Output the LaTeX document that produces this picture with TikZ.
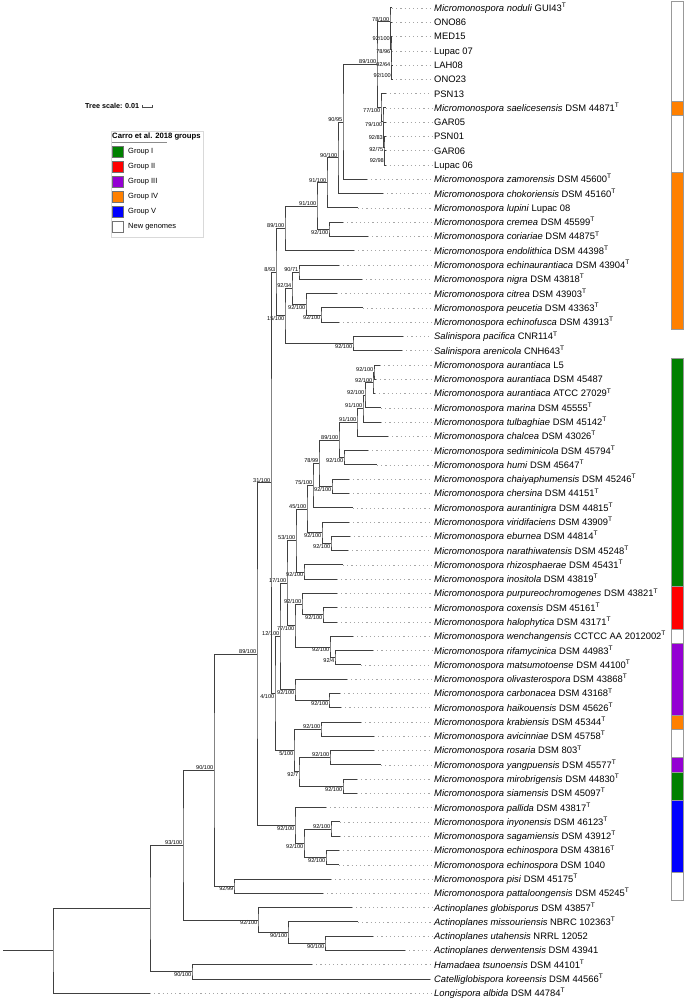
\documentclass[tikz,border=0pt]{standalone}
\usepackage{fontspec}
\setmainfont{Liberation Sans}
\usetikzlibrary{calc,arrows.meta}
\definecolor{grpI}{RGB}{0,128,0}
\definecolor{grpII}{RGB}{255,0,0}
\definecolor{grpIII}{RGB}{148,0,211}
\definecolor{grpIV}{RGB}{255,128,0}
\definecolor{grpV}{RGB}{0,0,255}
\newcommand\tT{\textsuperscript{T}}
\newcommand\Mic[1]{\textit{Micromonospora #1}}
% clade: name, x, upper child, lower child, support, label side
\newcommand\clade[6]{%
  \path let \p1=(#3), \p2=(#4) in coordinate (#1) at (#2pt,{(\y1+\y2)/2});
  \draw[branch] (#3) -| (#1) |- (#4);
  \node[#6] (#1s) at (#1) {#5};}
\begin{document}
\begin{tikzpicture}[
    x=1pt, y=-1pt,
    branch/.style={draw=black!75, line width=1pt},
    leader/.style={draw=black!35, line width=0.6pt, dash pattern=on 1.2pt off 3pt},
    leaf/.style={anchor=base west, inner sep=0pt, font=\fontsize{9.4}{11}\selectfont},
    bsu/.style={anchor=south east, inner sep=0.5pt, font=\fontsize{5.6}{6}\selectfont},
    bsd/.style={anchor=north east, inner sep=0.5pt, font=\fontsize{5.6}{6}\selectfont},
    barseg/.style={draw=black!40, line width=0.6pt},
    swatch/.style={draw=black!55, line width=0.5pt, minimum size=10.5pt, inner sep=0pt},
    keytext/.style={anchor=west, inner sep=0pt, font=\fontsize{7.5}{9}\selectfont}
]
\useasboundingbox (0,0) rectangle (686,1000);

% leaves
\foreach \i/\xe/\lbl in {
  1/392/{\Mic{noduli} GUI43\tT},
  2/392/{ONO86},
  3/392/{MED15},
  4/392/{Lupac 07},
  5/392/{LAH08},
  6/392/{ONO23},
  7/386/{PSN13},
  8/385.5/{\Mic{saelicesensis} DSM 44871\tT},
  9/385.5/{GAR05},
  10/385.5/{PSN01},
  11/385.5/{GAR06},
  12/385.5/{Lupac 06},
  13/367/{\Mic{zamorensis} DSM 45600\tT},
  14/383/{\Mic{chokoriensis} DSM 45160\tT},
  15/358/{\Mic{lupini} Lupac 08},
  16/343/{\Mic{cremea} DSM 45599\tT},
  17/368/{\Mic{coriariae} DSM 44875\tT},
  18/354/{\Mic{endolithica} DSM 44398\tT},
  19/339/{\Mic{echinaurantiaca} DSM 43904\tT},
  20/362/{\Mic{nigra} DSM 43818\tT},
  21/337/{\Mic{citrea} DSM 43903\tT},
  22/363/{\Mic{peucetia} DSM 43363\tT},
  23/339/{\Mic{echinofusca} DSM 43913\tT},
  24/403/{\textit{Salinispora pacifica} CNR114\tT},
  25/402/{\textit{Salinispora arenicola} CNH643\tT},
  26/380/{\Mic{aurantiaca} L5},
  27/376/{\Mic{aurantiaca} DSM 45487},
  28/375/{\Mic{aurantiaca} ATCC 27029\tT},
  29/381/{\Mic{marina} DSM 45555\tT},
  30/381/{\Mic{tulbaghiae} DSM 45142\tT},
  31/388/{\Mic{chalcea} DSM 43026\tT},
  32/368/{\Mic{sediminicola} DSM 45794\tT},
  33/377/{\Mic{humi} DSM 45647\tT},
  34/349/{\Mic{chaiyaphumensis} DSM 45246\tT},
  35/349/{\Mic{chersina} DSM 44151\tT},
  36/353/{\Mic{aurantinigra} DSM 44815\tT},
  37/349/{\Mic{viridifaciens} DSM 43909\tT},
  38/350/{\Mic{eburnea} DSM 44814\tT},
  39/348/{\Mic{narathiwatensis} DSM 45248\tT},
  40/343/{\Mic{rhizosphaerae} DSM 45431\tT},
  41/337/{\Mic{inositola} DSM 43819\tT},
  42/337/{\Mic{purpureochromogenes} DSM 43821\tT},
  43/337/{\Mic{coxensis} DSM 45161\tT},
  44/337/{\Mic{halophytica} DSM 43171\tT},
  45/353/{\Mic{wenchangensis} CCTCC AA 2012002\tT},
  46/373/{\Mic{rifamycinica} DSM 44983\tT},
  47/361/{\Mic{matsumotoense} DSM 44100\tT},
  48/347/{\Mic{olivasterospora} DSM 43868\tT},
  49/340/{\Mic{carbonacea} DSM 43168\tT},
  50/341/{\Mic{haikouensis} DSM 45626\tT},
  51/361/{\Mic{krabiensis} DSM 45344\tT},
  52/374/{\Mic{avicinniae} DSM 45758\tT},
  53/374/{\Mic{rosaria} DSM 803\tT},
  54/381/{\Mic{yangpuensis} DSM 45577\tT},
  55/357/{\Mic{mirobrigensis} DSM 44830\tT},
  56/357/{\Mic{siamensis} DSM 45097\tT},
  57/326/{\Mic{pallida} DSM 43817\tT},
  58/340/{\Mic{inyonensis} DSM 46123\tT},
  59/340/{\Mic{sagamiensis} DSM 43912\tT},
  60/339/{\Mic{echinospora} DSM 43816\tT},
  61/339/{\Mic{echinospora} DSM 1040},
  62/331/{\Mic{pisi} DSM 45175\tT},
  63/323/{\Mic{pattaloongensis} DSM 45245\tT},
  64/352/{\textit{Actinoplanes globisporus} DSM 43857\tT},
  65/358/{\textit{Actinoplanes missouriensis} NBRC 102363\tT},
  66/373/{\textit{Actinoplanes utahensis} NRRL 12052},
  67/405/{\textit{Actinoplanes derwentensis} DSM 43941},
  68/312/{\textit{Hamadaea tsunoensis} DSM 44101\tT},
  69/430/{\textit{Catelliglobispora koreensis} DSM 44566\tT},
  70/150/{\textit{Longispora albida} DSM 44784\tT}%
}{
  \coordinate (l\i) at (\xe,{8+(\i-1)*14.28});
  \draw[leader] (l\i) -- (432,{8+(\i-1)*14.28});
  \node[leaf] (t\i) at (434,{8+(\i-1)*14.28+3.4}) {\lbl};
}

% top cluster
\clade{nA1}{391.5}{l5}{l6}{92/100}{bsd}
\clade{nA2}{391}{l4}{nA1}{92/64}{bsd}
\clade{nA3}{391}{l3}{nA2}{78/96}{bsd}
\clade{nA4}{390.5}{l2}{nA3}{92/100}{bsd}
\clade{nA5}{390}{l1}{nA4}{78/100}{bsu}
\clade{nB1}{384.5}{l11}{l12}{92/98}{bsd}
\clade{nB2}{384}{l10}{nB1}{92/75}{bsd}
\clade{nB3}{383.5}{l9}{nB2}{92/83}{bsd}
\clade{nB4}{383}{l8}{nB3}{79/100}{bsd}
\clade{nB5}{381}{l7}{nB4}{77/100}{bsd}
\clade{nTop}{377}{nA5}{nB5}{89/100}{bsu}
\clade{n9095}{343}{nTop}{l13}{90/95}{bsu}
\clade{n90100}{338}{n9095}{l14}{90/100}{bsu}
\clade{n91a}{327}{n90100}{l15}{91/100}{bsu}
\clade{ncc}{329}{l16}{l17}{92/100}{bsd}
\clade{n91b}{317}{n91a}{ncc}{91/100}{bsu}
\clade{n89u}{285}{n91b}{l18}{89/100}{bsu}
\clade{nen}{299}{l19}{l20}{90/71}{bsu}
\clade{npe}{321}{l22}{l23}{92/100}{bsd}
\clade{nci}{306}{l21}{npe}{92/100}{bsd}
\clade{n9234}{292}{nen}{nci}{92/34}{bsu}
\clade{nsal}{353}{l24}{l25}{92/100}{bsd}
\clade{n15}{285}{n9234}{nsal}{15/100}{bsd}
\clade{n893}{276}{n89u}{n15}{8/93}{bsu}
% group I
\clade{c1}{374}{l26}{l27}{92/100}{bsu}
\clade{c2}{373}{c1}{l28}{92/100}{bsu}
\clade{c3}{365}{c2}{l29}{92/100}{bsu}
\clade{c4}{363}{c3}{l30}{91/100}{bsu}
\clade{c5}{357}{c4}{l31}{91/100}{bsu}
\clade{csh}{344}{l32}{l33}{92/100}{bsd}
\clade{c6}{339}{c5}{csh}{89/100}{bsu}
\clade{ccc}{332}{l34}{l35}{92/100}{bsd}
\clade{c7}{319}{c6}{ccc}{78/99}{bsu}
\clade{c8}{313}{c7}{l36}{75/100}{bsu}
\clade{cen}{331}{l38}{l39}{92/100}{bsd}
\clade{cvt}{322}{l37}{cen}{92/100}{bsd}
\clade{c9}{307}{c8}{cvt}{45/100}{bsu}
\clade{cri}{304}{l40}{l41}{92/100}{bsd}
\clade{c10}{296}{c9}{cri}{53/100}{bsu}
% groups II and III
\clade{dch}{323}{l43}{l44}{92/100}{bsd}
\clade{dph}{302}{l42}{dch}{92/100}{bsu}
\clade{drm}{335}{l46}{l47}{92/4}{bsd}
\clade{dwg}{330}{l45}{drm}{92/100}{bsd}
\clade{d77}{295}{dph}{dwg}{77/100}{bsd}
\clade{d17}{287}{c10}{d77}{17/100}{bsu}
\clade{dkh}{329}{l49}{l50}{92/100}{bsd}
\clade{doc}{295}{l48}{dkh}{92/100}{bsd}
\clade{d12}{280}{d17}{doc}{12/100}{bsu}
\clade{dka}{321}{l51}{l52}{92/100}{bsu}
\clade{dry}{330}{l53}{l54}{92/100}{bsu}
\clade{dms}{343}{l55}{l56}{92/100}{bsd}
\clade{d927}{299}{dry}{dms}{92/7}{bsd}
\clade{d5}{294}{dka}{d927}{5/100}{bsd}
\clade{d4}{275}{d12}{d5}{4/100}{bsd}
\clade{d31}{271}{n893}{d4}{31/100}{bsu}
% group V
\clade{vis}{331}{l58}{l59}{92/100}{bsu}
\clade{vec}{326}{l60}{l61}{92/100}{bsd}
\clade{v304}{304}{vis}{vec}{92/100}{bsd}
\clade{vpa}{295}{l57}{v304}{92/100}{bsd}
\clade{d89}{257}{d31}{vpa}{89/100}{bsu}
\clade{npp}{234}{l62}{l63}{92/99}{bsd}
\clade{nC}{214}{d89}{npp}{90/100}{bsu}
% outgroups
\clade{nF}{325}{l66}{l67}{90/100}{bsd}
\clade{nE}{288}{l65}{nF}{90/100}{bsd}
\clade{nD}{258}{l64}{nE}{92/100}{bsd}
\clade{nB}{183}{nC}{nD}{93/100}{bsu}
\clade{nH}{192}{l68}{l69}{90/100}{bsd}
\clade{nA}{150}{nB}{nH}{}{bsu}
\clade{root}{53}{nA}{l70}{}{bsu}
\draw[branch] (root) -- ++(-50,0);

% group bar
\foreach \a/\b/\col in {1/7/white, 8/8/grpIV, 9/12/white, 13/23/grpIV,
    26/41/grpI, 42/44/grpII, 45/45/white, 46/50/grpIII, 51/51/grpIV,
    52/53/white, 54/54/grpIII, 55/56/grpI, 57/61/grpV, 62/63/white}
  \draw[barseg, fill=\col] (671,{8+(\a-1)*14.28-7.14}) rectangle (683,{8+(\b-1)*14.28+7.14});

% scale and legend
\node[anchor=west, inner sep=0pt, font=\bfseries\fontsize{7.2}{8}\selectfont] (scale) at (85,106) {Tree scale: 0.01};
\coordinate (sc0) at (142,107);
\coordinate (sc1) at (152,107);
\draw[black!70, line width=0.5pt, {Bar[width=3pt]}-{Bar[width=3pt]}] (sc0) -- (sc1);
\draw[draw=black!15, fill=white, line width=0.5pt] (111,131) rectangle (203,237);
\node[anchor=west, inner sep=0pt, font=\bfseries\fontsize{7.7}{9}\selectfont] (keyhead) at (112,137) {Carro et al. 2018 groups};
\draw[black!45, line width=0.8pt] (112,142.5) -- (167,142.5);
\foreach \k/\col/\txt in {0/grpI/Group I, 1/grpII/Group II, 2/grpIII/Group III,
    3/grpIV/Group IV, 4/grpV/Group V, 5/white/New genomes}{
  \node[swatch, fill=\col] (key\k) at (117.5,{152+15*\k}) {};
  \node[keytext] (keyt\k) at (128,{152+15*\k}) {\txt};
}
\end{tikzpicture}
\end{document}
